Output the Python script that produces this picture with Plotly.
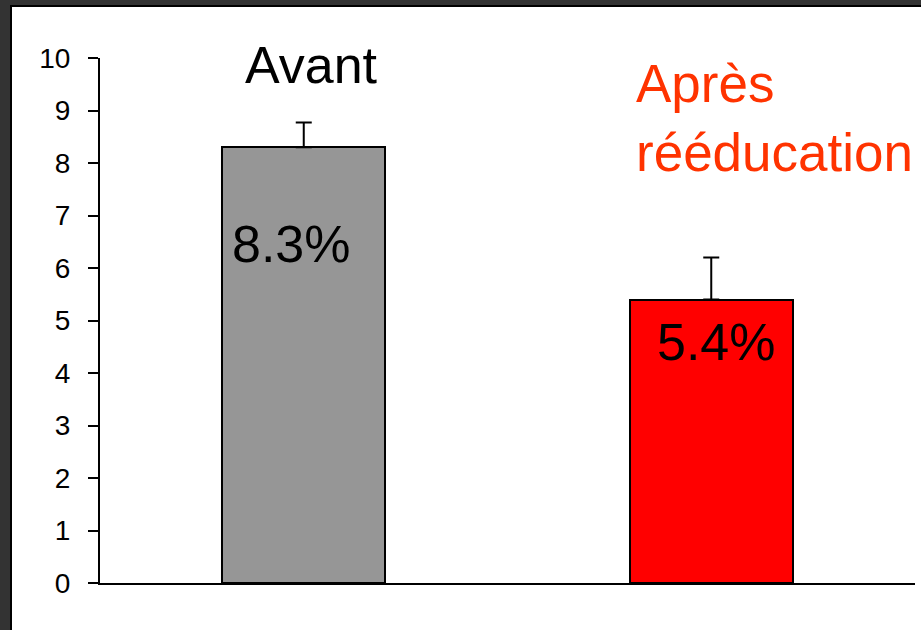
import plotly.graph_objects as go

categories = ["Avant", "Après rééducation"]
values = [8.3, 5.4]
errors_up = [0.47, 0.8]
value_labels = ["8.3%", "5.4%"]
bar_colors = ["#969696", "#FF0000"]
tick_vals = list(range(0, 11))

W, H = 921, 630
L, R, T, B = 100, 6, 58, 47
pw = W - L - R
ph = H - T - B

def px_x(p):
    return (p - L) / pw

def px_y(p):
    return (H - B - p) / ph

FONT = "Liberation Sans, Arial, sans-serif"

fig = go.Figure()
fig.add_trace(go.Bar(
    x=[0, 1], y=values, width=0.4,
    marker=dict(color=bar_colors, line=dict(color="black", width=2)),
    error_y=dict(type="data", symmetric=False, array=errors_up,
                 arrayminus=[0, 0], color="black", thickness=2, width=8),
    hoverinfo="skip",
))

annotations = [
    dict(x=0, y=9.87, text=categories[0], xshift=8, showarrow=False,
         xanchor="center", yanchor="middle", font=dict(size=52, color="black", family=FONT)),
    dict(x=px_x(634), xref="paper", y=8.86, text="Après<br>rééducation", showarrow=False,
         xanchor="left", yanchor="middle", align="left",
         font=dict(size=53, color="#FF3300", family=FONT)),
    dict(x=0, y=(583 - 244) / 52.5, text=value_labels[0], xshift=-12, showarrow=False,
         xanchor="center", yanchor="middle", font=dict(size=52, color="black", family=FONT)),
    dict(x=1, y=(583 - 342) / 52.5, text=value_labels[1], xshift=5, showarrow=False,
         xanchor="center", yanchor="middle", font=dict(size=52, color="black", family=FONT)),
]

shapes = [
    dict(type="rect", xref="paper", yref="paper", x0=px_x(-5), x1=px_x(10),
         y0=px_y(640), y1=px_y(-5), fillcolor="#333333", line=dict(width=0), layer="above"),
    dict(type="rect", xref="paper", yref="paper", x0=px_x(10), x1=px_x(12),
         y0=px_y(640), y1=px_y(5), fillcolor="#000000", line=dict(width=0), layer="above"),
    dict(type="rect", xref="paper", yref="paper", x0=px_x(-5), x1=px_x(930),
         y0=px_y(5), y1=px_y(-5), fillcolor="#333333", line=dict(width=0), layer="above"),
    dict(type="rect", xref="paper", yref="paper", x0=px_x(10), x1=px_x(930),
         y0=px_y(7), y1=px_y(5), fillcolor="#000000", line=dict(width=0), layer="above"),
]

fig.update_layout(
    width=W, height=H,
    margin=dict(l=L, r=R, t=T, b=B, pad=0),
    paper_bgcolor="white", plot_bgcolor="white",
    showlegend=False,
    bargap=0,
    annotations=annotations,
    shapes=shapes,
    font=dict(family=FONT, color="black"),
)
fig.update_xaxes(range=[-0.5, 1.5], showticklabels=False, ticks="", showgrid=False,
                 zeroline=False, showline=True, linecolor="black", linewidth=2)
fig.update_yaxes(range=[0, 10], tickvals=tick_vals, ticks="outside", ticklen=10,
                 tickwidth=2, tickcolor="black", showgrid=False, zeroline=False,
                 showline=True, linecolor="black", linewidth=2,
                 tickfont=dict(size=28, color="black", family=FONT),
                 ticklabelstandoff=12)

fig.write_html(
    "out.html",
    config={"displayModeBar": False},
    post_script="document.body.style.margin='0';document.body.style.overflow='hidden';",
)
